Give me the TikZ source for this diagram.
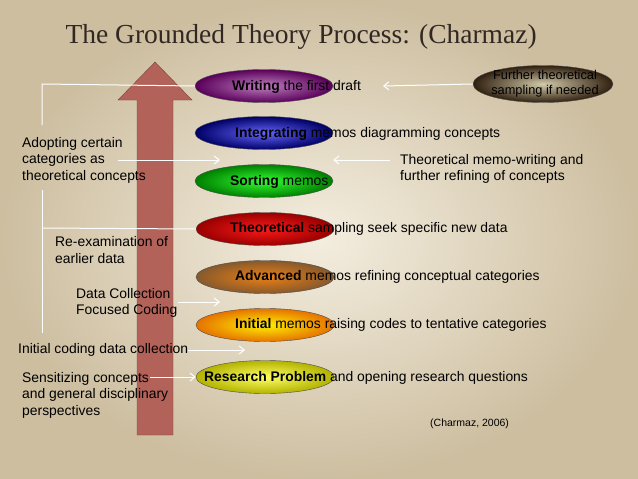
\documentclass[tikz,border=0pt]{standalone}
\usepackage{fontspec}
\setmainfont{Liberation Sans}
\newfontfamily\titlefont{Liberation Serif}
\usetikzlibrary{shapes.geometric,arrows.meta}
\definecolor{parch}{RGB}{236,226,202}
\definecolor{parchdark}{RGB}{205,190,160}
\definecolor{shaftred}{RGB}{178,98,88}
\definecolor{titleink}{RGB}{50,40,35}
\definecolor{khaki}{RGB}{200,190,150}
\begin{document}
\begin{tikzpicture}[x=1pt,y=-1pt,font=\fontsize{13.9}{16.5}\selectfont,
	stage/.style={ellipse,draw=black!70,minimum width=138pt,minimum height=33pt,inner sep=0pt},
	lbl/.style={anchor=west,inner sep=0pt,align=left},
	flow/.style={white,line width=1pt,-{Straight Barb[length=5pt,width=8pt]}},
	link/.style={white,line width=1pt}]
	% background
	\shade [inner color=parch!60!white,outer color=parchdark] (0,0) rectangle (638,479);
	\useasboundingbox (0,0) rectangle (638,479);
	\node [anchor=west,text=titleink,font=\titlefont\fontsize{27.5}{30}\selectfont] (title) at (62,37) {The Grounded Theory Process: (Charmaz)};
	
	% big arrow
	\filldraw [fill=shaftred,draw=shaftred!70!black] (137,435) -- (137,100) -- (118,100) -- (155,62) -- (192,100) -- (173,100) -- (173,435) -- cycle;
	
	% stage ellipses
	\begin{scope}[nodes={stage}]
	\node [inner color=violet!50!white,outer color=violet!70!black] (wri) at (264,86) {};
	\node [inner color=blue!60!white,outer color=blue!40!black] (int) at (264,133) {};
	\node [inner color=green!80!white,outer color=green!50!black] (sor) at (264,181) {};
	\node [inner color=red!90!white,outer color=red!60!black] (the) at (265,229) {};
	\node [inner color=orange!70!brown,outer color=brown!70!black] (adv) at (265,277) {};
	\node [inner color=yellow!90!orange,outer color=orange!90!black] (ini) at (265,325) {};
	\node [inner color=yellow!60!white,outer color=yellow!70!black] (res) at (265,377) {};
	\node [inner color=khaki!80!white,outer color=black!75!brown,minimum width=140pt,minimum height=37pt] (fur) at (543,84) {};
	\end{scope}
	
	% stage texts
	\node [lbl] (twri) at (232,87) {\textbf{Writing} the first draft};
	\node [lbl] (tint) at (235,134) {\textbf{Integrating} memos diagramming concepts};
	\node [lbl] (tsor) at (230,182) {\textbf{Sorting} memos};
	\node [lbl] (tthe) at (230,229) {\textbf{Theoretical} sampling seek specific new data};
	\node [lbl] (tadv) at (235,277) {\textbf{Advanced} memos refining conceptual categories};
	\node [lbl] (tini) at (235,325) {\textbf{Initial} memos raising codes to tentative categories};
	\node [lbl] (tres) at (204,378) {\textbf{Research Problem} and opening research questions};
	\node [align=center,inner sep=0pt,font=\fontsize{12.8}{15}\selectfont] (tfur) at (545,84) {Further theoretical\\sampling if needed};
	
	% side texts
	\node [lbl] (adop) at (22,160) {Adopting certain\\categories as\\theoretical concepts};
	\node [lbl] (memo) at (400,169) {Theoretical memo-writing and\\further refining of concepts};
	\node [lbl] (reex) at (55,250) {Re-examination of\\earlier data};
	\node [lbl] (dcol) at (76,303) {Data Collection\\Focused Coding};
	\node [lbl] (icod) at (18,350) {Initial coding data collection};
	\node [lbl] (sens) at (22,395) {Sensitizing concepts\\and general disciplinary\\perspectives};
	\node [lbl,font=\fontsize{10.5}{12}\selectfont] (cite) at (430,424) {(Charmaz, 2006)};
	
	% connectors
	\coordinate (ltop) at (42,84);
	\coordinate (lmid) at (42,125);
	\coordinate (lreu) at (42,190);
	\coordinate (lbot) at (42,333);
	\coordinate (lthe) at (42,228);
	\draw [link] (lmid) -- (ltop) -- (wri.west);
	\draw [link] (lreu) -- (lbot);
	\draw [link] (lthe) -- (the.west);
	\draw [flow] (fur.west) -- (383,86);
	\draw [flow] (390,160) -- (sor.east |- 0,160);
	\draw [flow] (118,160) -- (220,160);
	\draw [flow] (dcol.east |- 0,302) -- (220,302);
	\draw [flow] (icod.east) -- (245,350);
	\draw [flow] (150,377) -- (res.west);
\end{tikzpicture}
\end{document}
